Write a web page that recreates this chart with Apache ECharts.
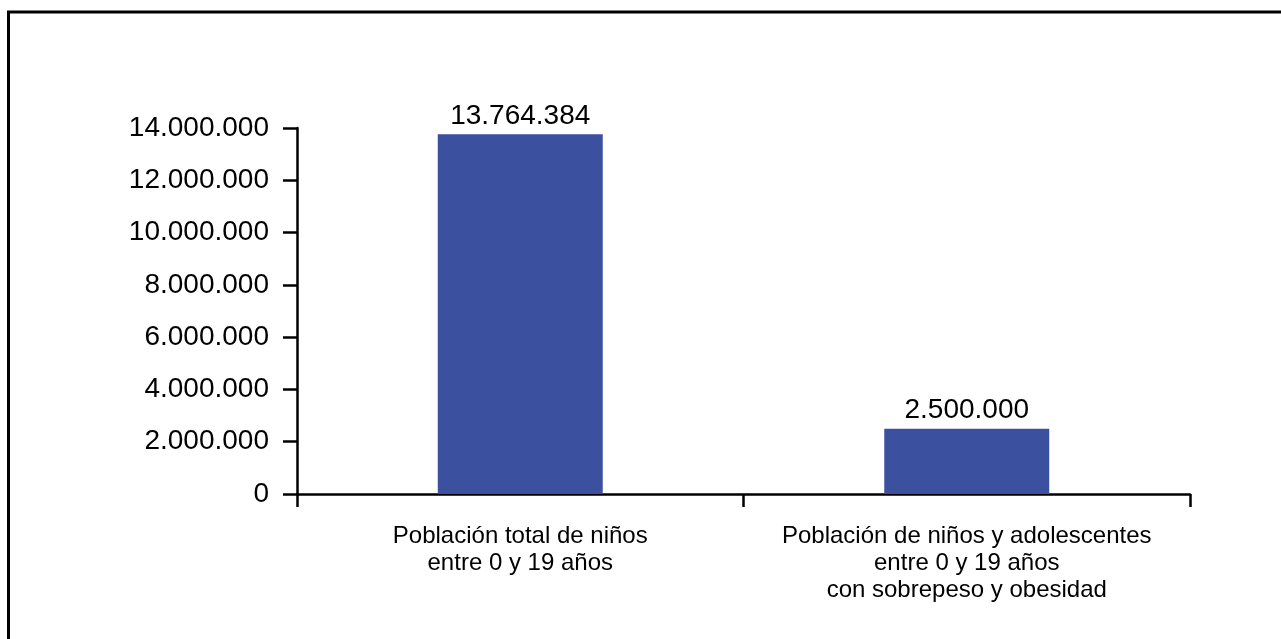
<!DOCTYPE html>
<html>
<head>
<meta charset="utf-8">
<script src="https://cdn.jsdelivr.net/npm/echarts@6/dist/echarts.min.js"></script>
<style>
  html, body { margin: 0; padding: 0; background: #fff; }
  #chart { width: 1281px; height: 639px; }
</style>
</head>
<body>
<div id="chart"></div>
<script>
const categories = [
  "Población total de niños\nentre 0 y 19 años",
  "Población de niños y adolescentes\nentre 0 y 19 años\ncon sobrepeso y obesidad"
];
const values = [13764384, 2500000];
const yMin = 0;
const yMax = 14000000;
const yInterval = 2000000;

function fmt(v) {
  return String(Math.round(v)).replace(/\B(?=(\d{3})+(?!\d))/g, ".");
}

const FONT = "'Liberation Sans', Arial, Helvetica, sans-serif";
const chart = echarts.init(document.getElementById('chart'), null, { renderer: 'canvas' });

chart.setOption({
  animation: false,
  backgroundColor: '#ffffff',
  graphic: [{
    type: 'rect',
    shape: { x: 8.5, y: 12, width: 1400, height: 800 },
    style: { fill: 'none', stroke: '#000', lineWidth: 3 },
    silent: true,
    z: 100
  }],
  grid: { left: 297, right: 91, top: 128, bottom: 145, containLabel: false },
  xAxis: {
    type: 'category',
    data: categories,
    boundaryGap: true,
    axisLine: { show: true, lineStyle: { color: '#000', width: 2.5 } },
    axisTick: { show: true, alignWithLabel: false, length: 13, inside: false, lineStyle: { color: '#000', width: 2.5 } },
    axisLabel: {
      interval: 0,
      margin: 29,
      color: '#000',
      fontFamily: FONT,
      fontSize: 24,
      lineHeight: 27,
      align: 'center'
    },
    splitLine: { show: false }
  },
  yAxis: {
    type: 'value',
    min: yMin,
    max: yMax,
    interval: yInterval,
    axisLine: { show: true, lineStyle: { color: '#000', width: 2.5 } },
    axisTick: { show: true, length: 14, inside: false, lineStyle: { color: '#000', width: 2.5 } },
    axisLabel: {
      margin: 28,
      color: '#000',
      fontFamily: FONT,
      fontSize: 28,
      formatter: fmt
    },
    splitLine: { show: false }
  },
  series: [{
    type: 'bar',
    data: values,
    barWidth: 165,
    itemStyle: { color: '#3C50A0' },
    label: {
      show: true,
      position: 'top',
      distance: 4,
      color: '#000',
      fontFamily: FONT,
      fontSize: 28,
      formatter: p => fmt(p.value)
    }
  }]
});
</script>
</body>
</html>
